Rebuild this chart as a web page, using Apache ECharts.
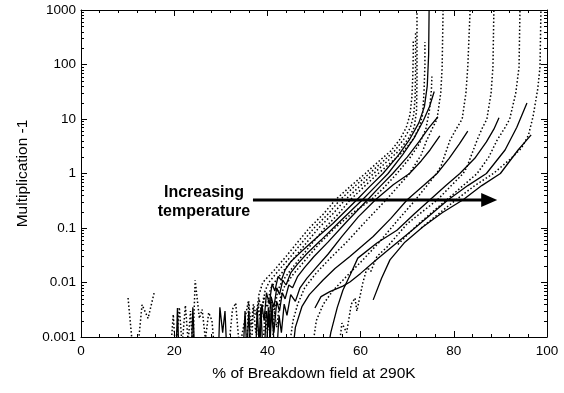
<!DOCTYPE html>
<html><head><meta charset="utf-8">
<script src="https://cdn.jsdelivr.net/npm/echarts/dist/echarts.min.js"></script>
<style>html,body{margin:0;padding:0;background:#fff}#c{width:564px;height:393px}</style>
</head><body><div id="c"></div>
<script>
// ---- tick labels ----
const xTickValues = [0, 20, 40, 60, 80, 100];
const yTickLabels = ['0.001', '0.01', '0.1', '1', '10', '100', '1000'];
const yMinorMultipliers = [2, 3, 4, 5, 6, 7, 8, 9];
const yDecades = [0.001, 0.01, 0.1, 1, 10, 100];

// ---- annotation ----
const annotationLines = ['Increasing', 'temperature'];
const arrowFrom = [36.9, 0.327];
const arrowTo = [87.6, 0.327];

// ---- low-field noise (dotted) ----
const dotNoise1 = [[10.1,0.0052],[11.2,0.0005],[12.1,0.0005],[13.1,0.0039],[14.4,0.0022],[15.7,0.0065]];
const dotNoise2 = [[19.2,0.0005],[19.8,0.0026],[20.3,0.0005],[21.1,0.0035],[21.7,0.0007],[22.4,0.0038],[23,0.0008],[23.5,0.003],[24,0.0006],[24.5,0.011],[25.4,0.0022],[26,0.0032],[26.7,0.0009],[27.4,0.0028],[28.1,0.002],[28.7,0.0005]];
const dotNoise3 = [[31.6,0.0005],[32.5,0.0032],[33.2,0.0042],[34,0.0006],[35.2,0.0022],[35.9,0.0045],[36.6,0.0005]];
// ---- low-field noise (solid) ----
const solNoise1 = [[20.4,0.0005],[20.7,0.0034],[21,0.0005],[23.7,0.0005],[24,0.0035],[24.4,0.0005],[29.5,0.0005],[29.8,0.0035],[30.4,0.0012],[30.9,0.003],[31.3,0.0005]];
const solNoise2 = [[34.8,0.0005],[35.2,0.003],[35.6,0.0005],[36,0.0029],[36.4,0.0006],[37.5,0.0005],[37.8,0.0033],[38.2,0.0008],[38.6,0.0035],[39,0.0006],[39.8,0.0005],[40.2,0.0035],[40.6,0.0009],[41,0.004],[41.5,0.0005]];

// ---- dotted curves, low-temperature cluster ----
const d1 = [[35.5,0.0005],[36,0.0045],[36.5,0.0015],[37,0.004],[37.6,0.0025],[38.2,0.006],[39,0.01],[41.5,0.017],[44,0.03],[46.5,0.055],[49,0.1],[52,0.18],[54.6,0.33],[57.8,0.58],[61,1],[64,1.7],[66.5,2.6],[68.5,4.3],[69.8,7],[70.6,12],[71,25],[71.2,60],[71.3,150],[71.3,280]];
const d2 = [[36.5,0.0005],[37,0.0035],[37.5,0.0012],[38.2,0.005],[38.8,0.003],[39.5,0.007],[40.3,0.01],[42.5,0.017],[45,0.03],[47.5,0.055],[50,0.1],[53,0.18],[55.6,0.33],[58.7,0.58],[61.9,1],[64.9,1.7],[67.3,2.6],[69.3,4.3],[70.7,7],[71.4,12],[71.7,25],[71.8,80],[71.8,400]];
const d3 = [[37.5,0.0005],[38,0.004],[38.6,0.0018],[39.2,0.0055],[40,0.0035],[40.6,0.0075],[41.5,0.01],[43.6,0.017],[46,0.03],[48.5,0.055],[51,0.1],[54,0.18],[56.7,0.33],[59.8,0.58],[62.8,1],[65.8,1.7],[68.2,2.6],[70.2,4.3],[71.5,7],[72,14],[72.1,50],[72.1,1000]];
const d4 = [[39,0.0005],[39.5,0.003],[40,0.0012],[40.8,0.0045],[41.5,0.003],[42.2,0.007],[43,0.01],[45,0.017],[47.3,0.03],[49.8,0.055],[52.3,0.1],[55.2,0.18],[57.8,0.33],[60.8,0.58],[63.8,1],[66.9,1.7],[69.3,2.6],[71.3,4.3],[72.6,7],[73.3,12],[73.6,30],[73.8,100],[73.8,260]];
const d5 = [[41,0.0005],[41.5,0.003],[42,0.0015],[42.7,0.005],[43.5,0.008],[45.5,0.014],[48,0.025],[51,0.05],[54.5,0.1],[58.3,0.19],[62.3,0.33],[65,0.55],[67.8,1],[70.5,1.9],[72.6,3.5],[74,6.5],[74.8,15],[75.2,35],[75.3,60]];
// ---- dotted curves, higher temperatures ----
const dr1 = [[44.5,0.0005],[45.5,0.002],[46.5,0.004],[48,0.008],[50.5,0.015],[53.5,0.028],[57,0.055],[61,0.13],[65.5,0.33],[70.5,1],[73,2.2],[74.2,4.1],[75.5,7],[76.4,10],[77.2,30],[77.5,90],[77.7,1000]];
const dr2 = [[49.5,0.0005],[50.5,0.002],[52,0.004],[54,0.007],[57,0.013],[60.5,0.026],[64,0.055],[68,0.14],[71.8,0.33],[76.3,1],[77.3,1.4],[79.2,4.1],[80.5,6.5],[81.8,10],[82.6,30],[83,90],[83.5,1000]];
const dr3 = [[55.2,0.0005],[56,0.0018],[57,0.0012],[58,0.004],[58.8,0.0052],[59.2,0.003],[59.6,0.0031],[60.5,0.01],[61.4,0.019],[62.2,0.016],[63.5,0.03],[65.7,0.045],[70,0.12],[76.5,0.33],[82,1],[82.8,1.3],[85,4.1],[86,6.5],[87.1,10],[88,30],[88.4,90],[88.6,1000]];
const dr4 = [[68,0.05],[72,0.11],[75.5,0.2],[78.5,0.33],[82,0.6],[85,1],[87.5,2],[89.3,4.1],[91,7],[92,10],[93.3,30],[94,90],[94.2,1000]];
const dr5 = [[73,0.1],[77,0.19],[80.5,0.33],[84.5,0.6],[88.5,1],[92,1.8],[94.5,2.9],[96,5],[97,11],[98,35],[98.5,90],[98.7,1000]];

// ---- solid curves, low-temperature cluster ----
const s1 = [[38.3,0.0005],[38.8,0.004],[39.3,0.002],[39.8,0.0065],[40.4,0.004],[41,0.0095],[41.6,0.007],[42.3,0.013],[43,0.011],[43.8,0.017],[45,0.024],[47,0.035],[50,0.06],[54,0.12],[59.2,0.33],[62,0.58],[64.8,1],[68,2.1],[70.5,4.2],[72.5,8.5],[73.7,17],[74.3,40],[74.6,150],[74.7,1000]];
const s2 = [[39.3,0.0005],[39.8,0.003],[40.3,0.0015],[40.8,0.0055],[41.4,0.0035],[42,0.008],[42.6,0.006],[43.3,0.011],[44,0.009],[45,0.015],[46.5,0.022],[48.5,0.034],[51.5,0.06],[55.5,0.13],[60.4,0.33],[63.2,0.58],[65.9,1],[69,2.2],[71.5,4.5],[73.5,9.5],[74.8,17],[75.8,32]];
const s3 = [[40.3,0.0005],[40.8,0.0028],[41.4,0.0012],[42,0.0045],[42.6,0.003],[43.2,0.0065],[43.8,0.005],[44.6,0.009],[45.4,0.008],[46.5,0.013],[48,0.019],[50,0.03],[53,0.055],[57,0.13],[61.5,0.33],[64.2,0.58],[66.9,1],[70,2],[72.5,3.8],[74.6,6.8],[76.6,11]];
const s4 = [[42,0.0005],[42.5,0.0025],[43,0.0012],[43.6,0.004],[44.2,0.0025],[45,0.006],[46,0.0045],[47,0.008],[48.5,0.012],[50.5,0.019],[53,0.033],[56,0.07],[59.5,0.16],[63.2,0.33],[67,0.62],[70.5,1],[73,1.7],[74.9,2.7],[77,4.9]];
// ---- solid curves, higher temperatures ----
const r1 = [[45.4,0.0005],[46,0.0015],[47.4,0.0036],[49,0.006],[51.9,0.011],[54.5,0.018],[57.7,0.03],[62.7,0.07],[66.5,0.15],[70,0.33],[73.5,0.6],[76.4,1],[79,1.9],[81.2,3.5],[83,6]];
const r2 = [[53,0.0006],[53.6,0.0012],[55,0.0035],[56.2,0.0072],[57.8,0.014],[59.4,0.028],[63.5,0.053],[67.8,0.091],[71.5,0.18],[74.9,0.33],[78.3,0.6],[81.3,1],[84.5,1.9],[87,3.8],[88.6,6.5],[89.7,10.5]];
const r3 = [[50.2,0.0034],[51.5,0.0055],[53.4,0.0068],[56.2,0.0086],[57.7,0.0102],[60,0.0147],[63,0.0245],[67,0.047],[71,0.09],[75,0.175],[78.8,0.33],[83,0.6],[87,1],[91,2.7],[93.5,7],[95.7,19.6]];
const r4 = [[62.7,0.0048],[64.5,0.012],[66.3,0.026],[69.5,0.055],[73.4,0.105],[77.5,0.19],[82,0.33],[86,0.6],[90,1],[93.8,2.7],[96.6,5.1]];

const solidCurves = [solNoise1, solNoise2, s1, s2, s3, s4, r1, r2, r3, r4];
const dottedCurves = [dotNoise1, dotNoise2, dotNoise3, d1, d2, d3, d4, d5, dr1, dr2, dr3, dr4, dr5];

const FONT = '"Liberation Sans", Arial, sans-serif';
const chart = echarts.init(document.getElementById('c'), null, {renderer: 'canvas'});

const series = [];
dottedCurves.forEach(function (d) {
  series.push({type: 'line', data: d, symbol: 'none', showSymbol: false, clip: true, silent: true,
    animation: false, z: 2, lineStyle: {color: '#000', width: 1.5, type: [1.5, 2.2]}});
});
solidCurves.forEach(function (d) {
  series.push({type: 'line', data: d, symbol: 'none', showSymbol: false, clip: true, silent: true,
    animation: false, z: 3, lineStyle: {color: '#000', width: 1.3}});
});
// arrow
series.push({type: 'line', silent: true, animation: false, z: 5, clip: false,
  lineStyle: {color: '#000', width: 3}, showSymbol: true,
  data: [{value: arrowFrom, symbol: 'none'},
         {value: arrowTo, symbol: 'triangle', symbolSize: [14, 16], symbolRotate: -90, itemStyle: {color: '#000'}}]});
// log minor ticks on left and right frame
const yMinor = [];
yDecades.forEach(function (dec) { yMinorMultipliers.forEach(function (m) { yMinor.push([0, m * dec]); }); });
series.push({type: 'custom', silent: true, animation: false, z: 6, data: yMinor,
  encode: {x: 0, y: 1},
  renderItem: function (params, api) {
    const y = Math.round(api.coord([0, api.value(1)])[1]) + 0.5;
    const cs = params.coordSys;
    return {type: 'group', children: [
      {type: 'line', shape: {x1: cs.x, y1: y, x2: cs.x + 3, y2: y}, style: {stroke: '#000', lineWidth: 1}},
      {type: 'line', shape: {x1: cs.x + cs.width - 3, y1: y, x2: cs.x + cs.width, y2: y}, style: {stroke: '#000', lineWidth: 1}}
    ]};
  }});

const axisCommonX = {type: 'value', min: xTickValues[0], max: xTickValues[xTickValues.length - 1], interval: 20,
  axisLine: {show: true, onZero: false, lineStyle: {color: '#000', width: 1}},
  axisTick: {show: true, inside: true, length: 6, lineStyle: {color: '#000', width: 1}},
  minorTick: {show: true, splitNumber: 5, length: 3, lineStyle: {color: '#000', width: 1}},
  splitLine: {show: false}, minorSplitLine: {show: false}};
const axisCommonY = {type: 'log', logBase: 10, min: 0.001, max: 1000,
  axisLine: {show: true, onZero: false, lineStyle: {color: '#000', width: 1}},
  axisTick: {show: true, inside: true, length: 6, lineStyle: {color: '#000', width: 1}},
  minorTick: {show: false}, splitLine: {show: false}};

chart.setOption({
  backgroundColor: '#fff',
  animation: false,
  grid: {left: 81, right: 17, top: 10, bottom: 56, containLabel: false},
  xAxis: [
    Object.assign({}, axisCommonX, {position: 'bottom',
      axisLabel: {show: true, margin: 7, fontSize: 13.5, color: '#000', fontFamily: FONT},
      name: '% of Breakdown field at 290K', nameLocation: 'middle', nameGap: 29,
      nameTextStyle: {fontSize: 15.5, color: '#000', fontFamily: FONT}}),
    Object.assign({}, axisCommonX, {position: 'top', axisLabel: {show: false}})
  ],
  yAxis: [
    Object.assign({}, axisCommonY, {position: 'left',
      axisLabel: {show: true, margin: 5, fontSize: 13.5, color: '#000', fontFamily: FONT,
        formatter: function (v) { return yTickLabels[Math.round(Math.log10(v)) + 3]; }},
      name: 'Multiplication -1', nameLocation: 'middle', nameGap: 50, nameRotate: 90,
      nameTextStyle: {fontSize: 15.5, color: '#000', fontFamily: FONT}}),
    Object.assign({}, axisCommonY, {position: 'right', axisLabel: {show: false}})
  ],
  graphic: [
    {type: 'text', x: 204, y: 193, z: 10, silent: true,
      style: {text: annotationLines[0], fill: '#000', font: 'bold 16px ' + FONT, textAlign: 'center', textVerticalAlign: 'middle'}},
    {type: 'text', x: 204, y: 212, z: 10, silent: true,
      style: {text: annotationLines[1], fill: '#000', font: 'bold 16px ' + FONT, textAlign: 'center', textVerticalAlign: 'middle'}}
  ],
  series: series
});
</script></body></html>
